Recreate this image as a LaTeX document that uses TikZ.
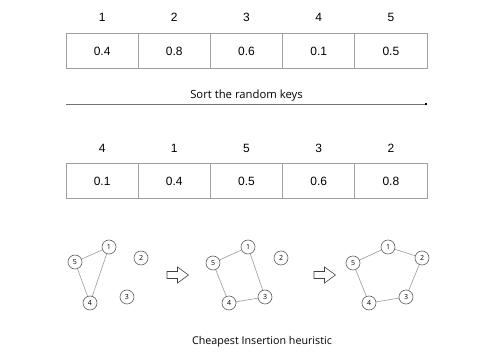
\documentclass[tikz,border=0pt]{standalone}
\usepackage{fontspec}
\setmainfont{Liberation Sans}
\newfontfamily\opensans{Open Sans}
\usetikzlibrary{arrows.meta}
\definecolor{cellgray}{HTML}{A0A0A0}
\definecolor{edgegray}{HTML}{9A9A9A}
\definecolor{circgray}{HTML}{606060}
\tikzset{
  cell/.style={draw=cellgray, line width=0.8pt, minimum width=72.2pt, minimum height=35pt, inner sep=0pt, font=\fontsize{12}{14}\selectfont},
  idx/.style={font=\fontsize{12}{14}\selectfont},
  city/.style={circle, draw=circgray, line width=0.6pt, minimum size=14pt, inner sep=0pt, font=\fontsize{7}{8}\opensans},
  tour/.style={draw=edgegray, line width=0.6pt},
}
\begin{document}
\begin{tikzpicture}[x=1pt,y=-1pt]
        \useasboundingbox (0,0) rectangle (498,352);
        % random keys
        \foreach \k [count=\i] in {0.4,0.8,0.6,0.1,0.5} {
            \node [cell] (k\i) at ({29.9+72.2*\i},51) {\k};
            \node [idx] (ki\i) at ({29.9+72.2*\i},17) {\i};
        }
        % sorting
        \coordinate (sortL) at (66,104);
        \coordinate (sortR) at (427,104);
        \draw [draw=black!55, line width=0.8pt, -{Square[length=2pt,width=2.5pt,black]}] (sortL) -- (sortR);
        \path (246.5,96) node [font=\fontsize{11.3}{13}\opensans] (sorttxt) {Sort the random keys};
        % sorted keys
        \foreach \k/\c [count=\i] in {0.1/4,0.4/1,0.5/5,0.6/3,0.8/2} {
            \node [cell] (s\i) at ({29.9+72.2*\i},181) {\k};
            \node [idx] (si\i) at ({29.9+72.2*\i},148) {\c};
        }
        % step 1
        \node [city] (a1) at (109,247) {1};
        \node [city] (a2) at (141,258) {2};
        \node [city] (a3) at (127,297) {3};
        \node [city] (a4) at (90,303) {4};
        \node [city] (a5) at (75,262) {5};
        \draw [tour] (a1) -- (a5) -- (a4) -- (a1);
        % step 2
        \node [city] (b1) at (248,247) {1};
        \node [city] (b2) at (281,258) {2};
        \node [city] (b3) at (265,297) {3};
        \node [city] (b4) at (229,303) {4};
        \node [city] (b5) at (213,263) {5};
        \draw [tour] (b1) -- (b5) -- (b4) -- (b3) -- (b1);
        % step 3
        \node [city] (c1) at (388,247) {1};
        \node [city] (c2) at (422,258) {2};
        \node [city] (c3) at (406,297) {3};
        \node [city] (c4) at (369,303) {4};
        \node [city] (c5) at (353,263) {5};
        \draw [tour] (c1) -- (c5) -- (c4) -- (c3) -- (c2) -- (c1);
        % hollow arrows
        \foreach \x in {167,314} {
            \draw [draw=black!75, line width=0.6pt, line join=miter]
                (\x,271.5) -- (\x+10.5,271.5) -- (\x+10.5,267) -- (\x+21.5,275)
                -- (\x+10.5,283) -- (\x+10.5,278.5) -- (\x,278.5) -- cycle;
        }
        \path (262,342) node [font=\fontsize{10.7}{13}\opensans] (caption) {Cheapest Insertion heuristic};
    \end{tikzpicture}
\end{document}
